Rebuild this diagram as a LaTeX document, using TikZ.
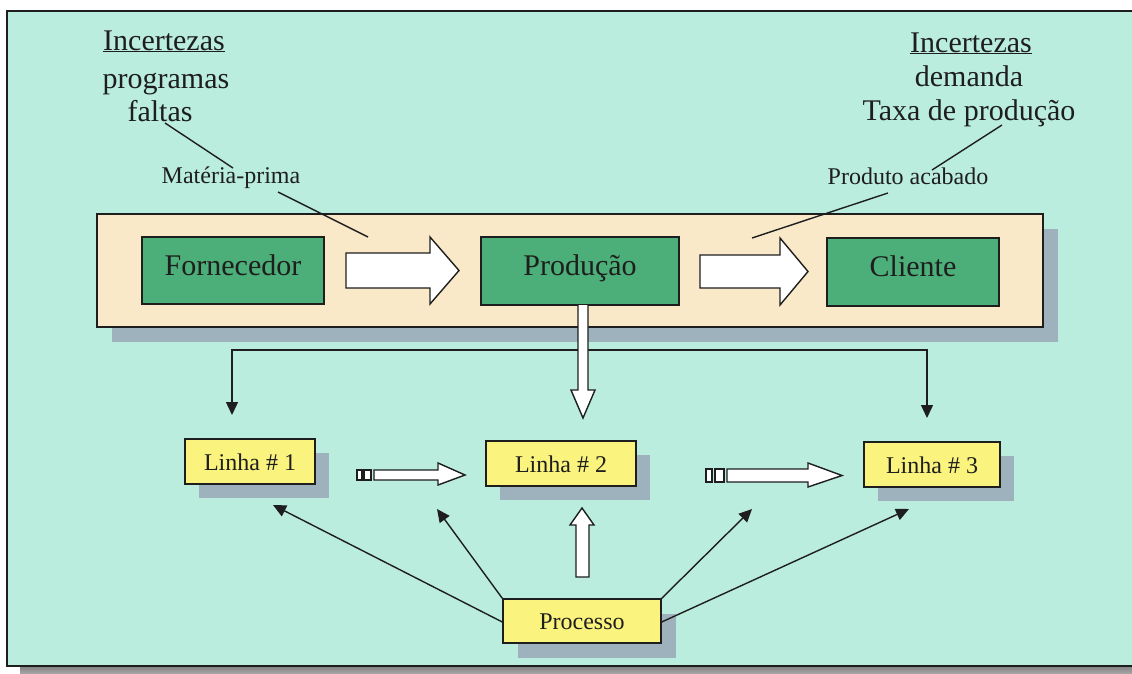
\documentclass[tikz,border=0pt]{standalone}
\usepackage{fontspec}
\setmainfont{Liberation Serif}
\usetikzlibrary{arrows.meta,shadows}

\definecolor{mint}{RGB}{186,237,222}
\definecolor{beige}{RGB}{249,233,200}
\definecolor{leaf}{RGB}{76,174,120}
\definecolor{lemon}{RGB}{250,243,125}
\definecolor{shade}{RGB}{158,178,190}
\definecolor{ink}{RGB}{30,30,30}

\tikzset{
  big/.style={font=\fontsize{30}{35}\selectfont, text=ink},
  small/.style={font=\fontsize{24}{28}\selectfont, text=ink},
  boxshadow/.style={drop shadow={shadow xshift=#1pt, shadow yshift=-#1pt, fill=shade, opacity=1}},
  panel/.style={draw=ink, line width=1.6pt, fill=beige, inner sep=0pt},
  greenbox/.style={draw=ink, line width=1.6pt, fill=leaf, inner sep=0pt, big,
    text height=20pt, text depth=11pt},
  yellowbox/.style={draw=ink, line width=1.4pt, fill=lemon, inner sep=0pt, small,
    text height=17pt, text depth=-3pt},
  hollow/.style={draw=ink, line width=1.4pt, fill=white, line join=miter},
  conn/.style={draw=ink, line width=1.4pt},
  tipped/.style={conn, -{Triangle[length=13pt,width=12pt]}},
  note/.style={draw=ink, line width=1.4pt},
}

\begin{document}
\begin{tikzpicture}[x=1pt,y=-1pt]
\useasboundingbox (0,0) rectangle (1132,673);
\clip (0,0) rectangle (1132,673);
\fill[white] (0,0) rectangle (1132,673);

% outer frame with its shadow
\fill[shade] (20,666) rectangle (1160,690);
\draw[ink, line width=1.6pt, fill=mint] (7,11) rectangle (1150,666);

% uncertainty labels
\node[big, anchor=base] (incL) at (164,50) {\underline{Incertezas}};
\node[big, anchor=base] (progL) at (166,88) {programas};
\node[big, anchor=base] (faltL) at (160,121) {faltas};

\node[big, anchor=base] (incR) at (971,52) {\underline{Incertezas}};
\node[big, anchor=base] (demR) at (969,86) {demanda};
\node[big, anchor=base] (taxR) at (969,120) {Taxa de produção};

\node[small, anchor=base] (mat) at (231,183) {Matéria-prima};
\node[small, anchor=base] (prodac) at (908,184) {Produto acabado};

% supply chain panel
\node[panel, boxshadow=15, minimum width=946, minimum height=113] (chain) at (570,270.5) {};
\node[greenbox, minimum width=182, minimum height=67] (forn) at (233,270.5) {Fornecedor};
\node[greenbox, minimum width=198, minimum height=68] (prod) at (580,271) {Produção};
\node[greenbox, minimum width=172, minimum height=68] (cli) at (913,272) {Cliente};

% block arrows between the chain stages
\draw[hollow] (346,253) -- (430,253) -- (430,237) -- (459,270.5) -- (430,304)
  -- (430,288) -- (346,288) -- cycle;
\draw[hollow] (700,255) -- (780,255) -- (780,238) -- (808,271.5) -- (780,305)
  -- (780,288) -- (700,288) -- cycle;

% leader lines from the uncertainty labels
\draw[note] (165,123) -- (233,168);
\draw[note] (278,192) -- (368,237);
\draw[note] (1002,125) -- (932,170);
\draw[note] (888,193) -- (752,238);

% production lines
\node[yellowbox, boxshadow=14, minimum width=130, minimum height=45] (l1) at (250,461.5) {Linha \# 1};
\node[yellowbox, boxshadow=14, minimum width=150, minimum height=45] (l2) at (561,463.5) {Linha \# 2};
\node[yellowbox, boxshadow=14, minimum width=136, minimum height=45] (l3) at (932,464.5) {Linha \# 3};
\node[yellowbox, boxshadow=15, minimum width=158, minimum height=44] (proc) at (582,621) {Processo};

% distribution from production to lines 1 and 3
\coordinate (hl) at (232,350);
\coordinate (hr) at (927,350);
\coordinate (t1) at (232,415);
\coordinate (t3) at (927,418);
\draw[conn, {Triangle[length=13pt,width=12pt]}-{Triangle[length=13pt,width=12pt]}] (t1) -- (hl) -- (hr) -- (t3);

% block arrow from production down to line 2
\draw[hollow] (578,305) -- (578,390) -- (571,390) -- (583,418) -- (595,390)
  -- (588,390) -- (588,305);

% striped arrows between the lines
\draw[hollow, line width=1.2pt] (357,470) rectangle (362,480);
\draw[hollow, line width=1.2pt] (364,470) rectangle (371,480);
\draw[hollow] (374,470) -- (438,470) -- (438,463) -- (465,475) -- (438,485)
  -- (438,480) -- (374,480) -- cycle;
\draw[hollow, line width=1.2pt] (706,469) rectangle (712,482);
\draw[hollow, line width=1.2pt] (715,469) rectangle (724,482);
\draw[hollow] (727,469) -- (808,469) -- (808,463) -- (842,475.5) -- (808,487)
  -- (808,482) -- (727,482) -- cycle;

% block arrow from the process up to line 2
\draw[hollow] (576,577) -- (576,525) -- (570,525) -- (582,508) -- (594,525)
  -- (589,525) -- (589,577) -- cycle;

% process influences on the lines
\coordinate (p1) at (273,505);
\coordinate (p2) at (437,509);
\coordinate (p3) at (752,509);
\coordinate (p4) at (909,509);
\draw[tipped] ([yshift=-1pt]proc.west) -- (p1);
\draw[tipped] (proc.north west) -- (p2);
\draw[tipped] (proc.north east) -- (p3);
\draw[tipped] ([yshift=-1pt]proc.east) -- (p4);
\end{tikzpicture}
\end{document}
